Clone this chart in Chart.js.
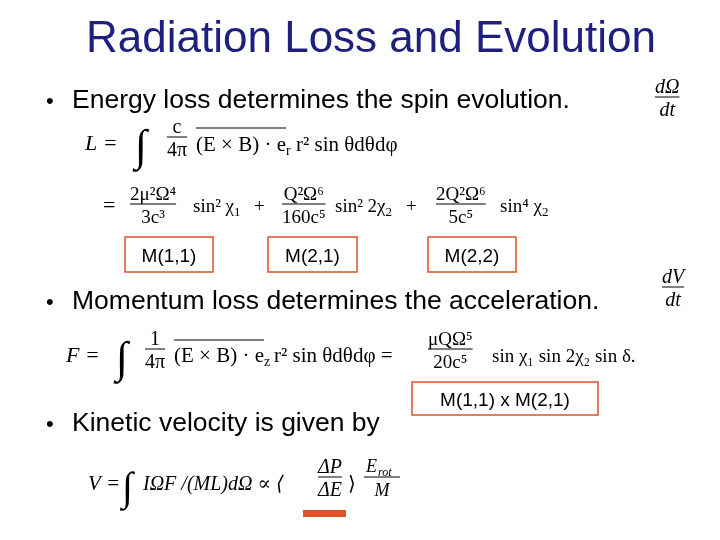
<!DOCTYPE html>
<html>
<head>
<meta charset="utf-8">
<script src="https://cdn.jsdelivr.net/npm/chart.js@4"></script>
<style>
  html, body { margin: 0; padding: 0; background: #fff; }
  #wrap { width: 720px; height: 540px; }
</style>
</head>
<body>
<div id="wrap"><canvas id="slide"></canvas></div>
<script>
// slide content
const title = 'Radiation Loss and Evolution';
const bullets = [
    'Energy loss determines the spin evolution.',
    'Momentum loss determines the acceleration.',
    'Kinetic velocity is given by'
];
const boxLabels = ['M(1,1)', 'M(2,1)', 'M(2,2)', 'M(1,1) x M(2,1)'];

const serif = '"Liberation Serif", "DejaVu Serif", serif';
const sans = '"Liberation Sans", Arial, sans-serif';

function txt(ctx, s, x, y, size, opts = {}) {
    ctx.font = `${opts.italic ? 'italic ' : ''}${size}px ${opts.family || serif}`;
    ctx.fillStyle = opts.color || '#000';
    ctx.textAlign = opts.align || 'left';
    ctx.textBaseline = 'alphabetic';
    ctx.fillText(s, x, y);
    return ctx.measureText(s).width;
}

function frac(ctx, num, den, x, y, size, italic) {
    ctx.font = `${italic ? 'italic ' : ''}${size}px ${serif}`;
    const w = Math.max(ctx.measureText(num).width, ctx.measureText(den).width);
    txt(ctx, num, x + w / 2, y - 7, size, { align: 'center', italic });
    txt(ctx, den, x + w / 2, y + 16, size, { align: 'center', italic });
    ctx.strokeStyle = '#000';
    ctx.lineWidth = 1;
    ctx.beginPath(); ctx.moveTo(x, y - 3); ctx.lineTo(x + w, y - 3); ctx.stroke();
    return w;
}

const slidePlugin = {
    id: 'slide',
    afterDraw(chart) {
        const ctx = chart.ctx;
        ctx.save();
        // title
        txt(ctx, title, 371, 52, 44, { family: sans, color: '#1f1f80', align: 'center' });

        // bullets
        const by = [108, 309, 431];
        bullets.forEach((b, i) => {
            txt(ctx, '•', 46, by[i], 22, { family: sans });
            txt(ctx, b, 72, by[i], 26.5, { family: sans });
        });

        // side derivatives
        frac(ctx, 'dΩ', 'dt', 655, 100, 20, true);
        frac(ctx, 'dV', 'dt', 662, 290, 20, true);

        // energy equation
        txt(ctx, 'L =', 85, 150, 22, { italic: true });
        txt(ctx, '∫', 135, 160, 44);
        frac(ctx, 'c', '4π', 167, 140, 20);
        let w = txt(ctx, '(E × B) · e', 196, 151, 21);
        ctx.beginPath(); ctx.moveTo(196, 128); ctx.lineTo(286, 128); ctx.stroke();
        txt(ctx, 'r', 196 + w, 155, 14);
        txt(ctx, 'r² sin θdθdφ', 196 + w + 10, 151, 21);

        txt(ctx, '=', 103, 212, 22);
        frac(ctx, '2μ²Ω⁴', '3c³', 130, 207, 19);
        w = txt(ctx, 'sin² χ', 193, 212, 19);
        txt(ctx, '1', 193 + w, 216, 13);
        txt(ctx, '+', 254, 212, 19);
        frac(ctx, 'Q²Ω⁶', '160c⁵', 282, 207, 19);
        w = txt(ctx, 'sin² 2χ', 335, 212, 19);
        txt(ctx, '2', 335 + w, 216, 13);
        txt(ctx, '+', 406, 212, 19);
        frac(ctx, '2Q²Ω⁶', '5c⁵', 436, 207, 19);
        w = txt(ctx, 'sin⁴ χ', 500, 212, 19);
        txt(ctx, '2', 500 + w, 216, 13);

        // momentum equation
        txt(ctx, 'F =', 66, 362, 22, { italic: true });
        txt(ctx, '∫', 116, 372, 44);
        frac(ctx, '1', '4π', 145, 352, 20);
        w = txt(ctx, '(E × B) · e', 174, 362, 21);
        ctx.beginPath(); ctx.moveTo(174, 340); ctx.lineTo(264, 340); ctx.stroke();
        txt(ctx, 'z', 174 + w, 366, 14);
        txt(ctx, 'r² sin θdθdφ =', 174 + w + 10, 362, 21);
        frac(ctx, 'μQΩ⁵', '20c⁵', 428, 352, 19);
        txt(ctx, 'sin χ₁ sin 2χ₂ sin δ.', 492, 362, 19);

        // velocity equation
        txt(ctx, 'V =', 88, 490, 21, { italic: true });
        txt(ctx, '∫', 122, 500, 40);
        txt(ctx, 'IΩF /(ML)dΩ ∝ ⟨', 143, 490, 20, { italic: true });
        frac(ctx, 'ΔP', 'ΔE', 318, 480, 20, true);
        txt(ctx, '⟩', 348, 490, 20);
        // E_rot / M
        txt(ctx, 'E', 366, 472, 18, { italic: true });
        txt(ctx, 'rot', 378, 476, 12, { italic: true });
        ctx.beginPath(); ctx.moveTo(364, 477); ctx.lineTo(400, 477); ctx.stroke();
        txt(ctx, 'M', 382, 496, 18, { italic: true, align: 'center' });

        // red underline
        ctx.fillStyle = '#e0522a';
        ctx.fillRect(303, 510, 43, 7);

        // boxes
        const boxes = [[125, 237, 88, 35], [268, 237, 89, 35], [428, 237, 88, 35], [412, 382, 186, 33]];
        boxes.forEach((b, i) => {
            ctx.strokeStyle = '#d9532b';
            ctx.lineWidth = 1.5;
            ctx.strokeRect(b[0], b[1], b[2], b[3]);
            txt(ctx, boxLabels[i], b[0] + b[2] / 2, b[1] + b[3] / 2 + 7, 19, { family: sans, align: 'center' });
        });
        ctx.restore();
    }
};

new Chart(document.getElementById('slide'), {
    type: 'scatter',
    data: { datasets: [] },
    options: {
        responsive: true,
        maintainAspectRatio: false,
        animation: false,
        plugins: { legend: { display: false }, tooltip: { enabled: false } },
        scales: { x: { display: false }, y: { display: false } }
    },
    plugins: [slidePlugin]
});
</script>
</body>
</html>
